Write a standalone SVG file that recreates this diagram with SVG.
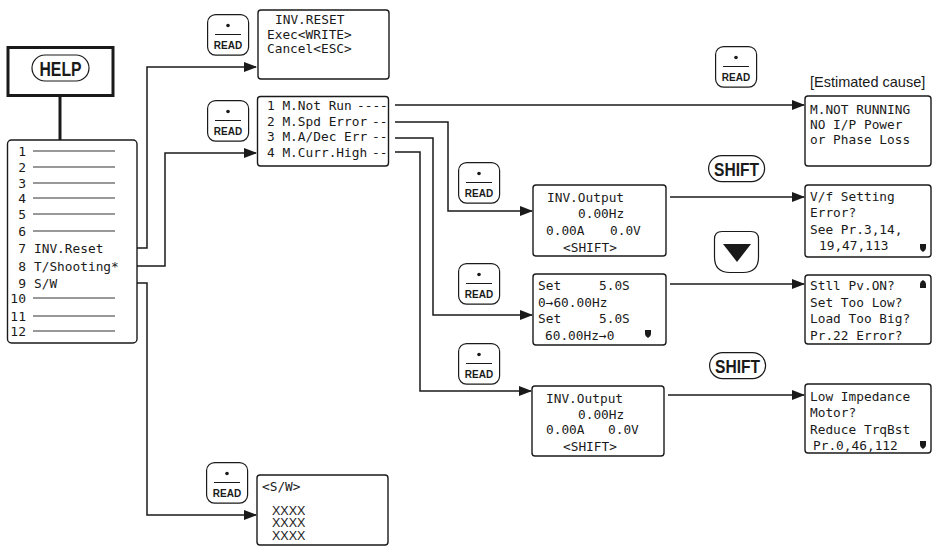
<svg xmlns="http://www.w3.org/2000/svg" width="935" height="548" viewBox="0 0 935 548">
<defs>
<style>
.box{fill:#fff;stroke:#1a1a1a;stroke-width:1.4}
.mono{font-family:"DejaVu Sans Mono","Liberation Mono",monospace;font-size:12.8px;fill:#1a1a1a}
.num{font-family:"DejaVu Sans Mono","Liberation Mono",monospace;font-size:13px;fill:#1a1a1a;text-anchor:end}
.key{fill:#fff;stroke:#1a1a1a;stroke-width:1.2}
.keyt{font-family:"Liberation Sans",Arial,sans-serif;font-weight:bold;fill:#1a1a1a}
.conn{fill:none;stroke:#1a1a1a;stroke-width:1.5}
.thin{stroke:#333;stroke-width:1}
.sans{font-family:"Liberation Sans",Arial,sans-serif;fill:#1a1a1a}
</style>
<marker id="arr" markerWidth="13" markerHeight="10" refX="12" refY="5" orient="auto" markerUnits="userSpaceOnUse"><path d="M0,0 L13,5 L0,10 Z" fill="#1a1a1a"/></marker>
<g id="readkey">
<rect x="0.6" y="0.6" width="41" height="40.5" rx="8" class="key"/>
<circle cx="21" cy="11.5" r="1.8" fill="#1a1a1a"/>
<line x1="8" y1="20.5" x2="34" y2="20.5" stroke="#1a1a1a" stroke-width="1"/>
<text x="21" y="35" text-anchor="middle" class="keyt" font-size="10">READ</text>
</g>
<g id="shiftkey">
<rect x="0.6" y="0.6" width="56" height="26" rx="13" class="key"/>
<text x="28.5" y="20.5" text-anchor="middle" class="keyt" font-size="19" textLength="45" lengthAdjust="spacingAndGlyphs">SHIFT</text>
</g>
<path id="dn" d="M0,0 H6 V4 Q6,6.5 3,8 Q0,6.5 0,4 Z" fill="#1a1a1a"/>
<path id="up" d="M0,8 H6 V4 Q6,1.5 3,0 Q0,1.5 0,4 Z" fill="#1a1a1a"/>
</defs>
<rect width="935" height="548" fill="#fff"/>

<g id="connectors">
<line x1="60" y1="95" x2="60" y2="140" stroke="#1a1a1a" stroke-width="3"/>
<polyline class="conn" points="128,248 147,248 147,67 256,67" marker-end="url(#arr)"/>
<polyline class="conn" points="128,266 165,266 165,153 256,153" marker-end="url(#arr)"/>
<polyline class="conn" points="128,283 147,283 147,515 256,515" marker-end="url(#arr)"/>
<polyline class="conn" points="395,105 804,105" marker-end="url(#arr)"/>
<polyline class="conn" points="395,122 448,122 448,211 532,211" marker-end="url(#arr)"/>
<polyline class="conn" points="395,138 433,138 433,315 532,315" marker-end="url(#arr)"/>
<polyline class="conn" points="395,152 420,152 420,391 531,391" marker-end="url(#arr)"/>
<polyline class="conn" points="670,197 804,197" marker-end="url(#arr)"/>
<polyline class="conn" points="670,284 804,284" marker-end="url(#arr)"/>
<polyline class="conn" points="668,395 804,395" marker-end="url(#arr)"/>
</g>

<g id="help">
<rect x="8" y="47.5" width="105" height="48" fill="#fff" stroke="#1a1a1a" stroke-width="3"/>
<rect x="32" y="55" width="57" height="26" rx="13" class="key"/>
<text x="60.5" y="75.5" text-anchor="middle" class="keyt" font-size="20" textLength="42" lengthAdjust="spacingAndGlyphs">HELP</text>
</g>

<g id="menu">
<rect x="7.5" y="140" width="129.5" height="203" rx="4" class="box"/>
<text class="num" x="26" y="155.5">1</text><line class="thin" x1="33" y1="151" x2="115" y2="151"/>
<text class="num" x="26" y="171.5">2</text><line class="thin" x1="33" y1="167" x2="115" y2="167"/>
<text class="num" x="26" y="187.5">3</text><line class="thin" x1="33" y1="183" x2="115" y2="183"/>
<text class="num" x="26" y="202.5">4</text><line class="thin" x1="33" y1="198" x2="115" y2="198"/>
<text class="num" x="26" y="218.5">5</text><line class="thin" x1="33" y1="214" x2="115" y2="214"/>
<text class="num" x="26" y="235.5">6</text><line class="thin" x1="33" y1="231" x2="115" y2="231"/>
<text class="num" x="26" y="252.5">7</text><text class="mono" x="34" y="252.5">INV.Reset</text>
<text class="num" x="26" y="270.5">8</text><text class="mono" x="34" y="270.5">T/Shooting*</text>
<text class="num" x="26" y="287.5">9</text><text class="mono" x="34" y="287.5">S/W</text>
<text class="num" x="26" y="302.5">10</text><line class="thin" x1="33" y1="298" x2="115" y2="298"/>
<text class="num" x="26" y="320.5">11</text><line class="thin" x1="33" y1="316" x2="115" y2="316"/>
<text class="num" x="26" y="335.5">12</text><line class="thin" x1="33" y1="331" x2="115" y2="331"/>
</g>

<g id="read1"><use href="#readkey" x="207" y="14"/></g>
<g id="inv-reset">
<rect x="258" y="10" width="131" height="69" rx="3" class="box"/>
<text class="mono" x="275" y="24">INV.RESET</text>
<text class="mono" x="267" y="38.5">Exec&lt;WRITE&gt;</text>
<text class="mono" x="267" y="53">Cancel&lt;ESC&gt;</text>
</g>

<g id="read2"><use href="#readkey" x="207" y="100"/></g>
<g id="troubleshoot">
<rect x="257.5" y="96.5" width="131" height="69.5" rx="3" class="box"/>
<text class="mono" x="267" y="110">1 M.Not Run<tspan x="357">----</tspan></text>
<text class="mono" x="267" y="125.5">2 M.Spd Error<tspan x="372">--</tspan></text>
<text class="mono" x="267" y="141">3 M.A/Dec Err<tspan x="372">--</tspan></text>
<text class="mono" x="267" y="156.5">4 M.Curr.High<tspan x="372">--</tspan></text>
</g>

<g id="read3"><use href="#readkey" x="715" y="46"/></g>
<text class="sans" x="810" y="87" font-size="14.5">[Estimated cause]</text>
<g id="not-running">
<rect x="805" y="96" width="126" height="70" rx="3" class="box"/>
<text class="mono" x="810" y="113.5">M.NOT RUNNING</text>
<text class="mono" x="810" y="128.5">NO I/P Power</text>
<text class="mono" x="810" y="143.5">or Phase Loss</text>
</g>

<g id="read4"><use href="#readkey" x="458" y="162"/></g>
<g id="inv-output-1">
<rect x="533" y="185" width="133" height="71" rx="3" class="box"/>
<text class="mono" x="547" y="202">INV.Output</text>
<text class="mono" x="578" y="218">0.00Hz</text>
<text class="mono" x="546" y="235">0.00A</text><text class="mono" x="610" y="235">0.0V</text>
<text class="mono" x="563" y="251.5">&lt;SHIFT&gt;</text>
</g>
<g id="shift1"><use href="#shiftkey" x="708" y="155"/></g>
<g id="vf-setting">
<rect x="805" y="185" width="126" height="72" rx="3" class="box"/>
<text class="mono" x="810" y="200.5">V/f Setting</text>
<text class="mono" x="810" y="217">Error?</text>
<text class="mono" x="810" y="233.5">See Pr.3,14,</text>
<text class="mono" x="819" y="250">19,47,113</text>
<use href="#dn" x="920" y="244"/>
</g>

<g id="read5"><use href="#readkey" x="458" y="263"/></g>
<g id="set-accel">
<rect x="533" y="274" width="133" height="71" rx="3" class="box"/>
<text class="mono" x="538" y="290">Set</text><text class="mono" x="599" y="290">5.0S</text>
<text class="mono" x="538" y="306.5">0→60.00Hz</text>
<text class="mono" x="538" y="323">Set</text><text class="mono" x="599" y="323">5.0S</text>
<text class="mono" x="545" y="339.5">60.00Hz→0</text>
<use href="#dn" x="645" y="330"/>
</g>
<g id="down-key">
<path d="M722,231.5 H751 Q758.5,231.5 758.5,239 V257 Q758.5,272.5 743,272.5 H730 Q714.5,272.5 714.5,257 V239 Q714.5,231.5 722,231.5 Z" class="key"/>
<path d="M723,244 H751 L737,262 Z" fill="#1a1a1a"/>
</g>
<g id="stall">
<rect x="805" y="275" width="126" height="69" rx="3" class="box"/>
<text class="mono" x="810" y="290">Stll Pv.ON?</text>
<text class="mono" x="810" y="306.5">Set Too Low?</text>
<text class="mono" x="810" y="323">Load Too Big?</text>
<text class="mono" x="810" y="339.5">Pr.22 Error?</text>
<use href="#up" x="920" y="280"/>
</g>

<g id="read6"><use href="#readkey" x="458" y="343"/></g>
<g id="inv-output-2">
<rect x="532" y="386" width="132" height="70" rx="3" class="box"/>
<text class="mono" x="546" y="402.5">INV.Output</text>
<text class="mono" x="578" y="418.5">0.00Hz</text>
<text class="mono" x="546" y="434">0.00A</text><text class="mono" x="608" y="434">0.0V</text>
<text class="mono" x="563" y="451">&lt;SHIFT&gt;</text>
</g>
<g id="shift2"><use href="#shiftkey" x="709" y="352"/></g>
<g id="low-impedance">
<rect x="805" y="384" width="126" height="69" rx="3" class="box"/>
<text class="mono" x="810" y="401">Low Impedance</text>
<text class="mono" x="810" y="417">Motor?</text>
<text class="mono" x="810" y="433.5">Reduce TrqBst</text>
<text class="mono" x="813" y="449.5">Pr.0,46,112</text>
<use href="#dn" x="920" y="441"/>
</g>

<g id="read7"><use href="#readkey" x="206" y="462"/></g>
<g id="sw">
<rect x="257" y="475" width="131" height="70" rx="3" class="box"/>
<text class="mono" x="262" y="491">&lt;S/W&gt;</text>
<text class="sans" x="272" y="514.5" font-size="12.5">XXXX</text>
<text class="sans" x="272" y="527" font-size="12.5">XXXX</text>
<text class="sans" x="272" y="540" font-size="12.5">XXXX</text>
</g>
</svg>
